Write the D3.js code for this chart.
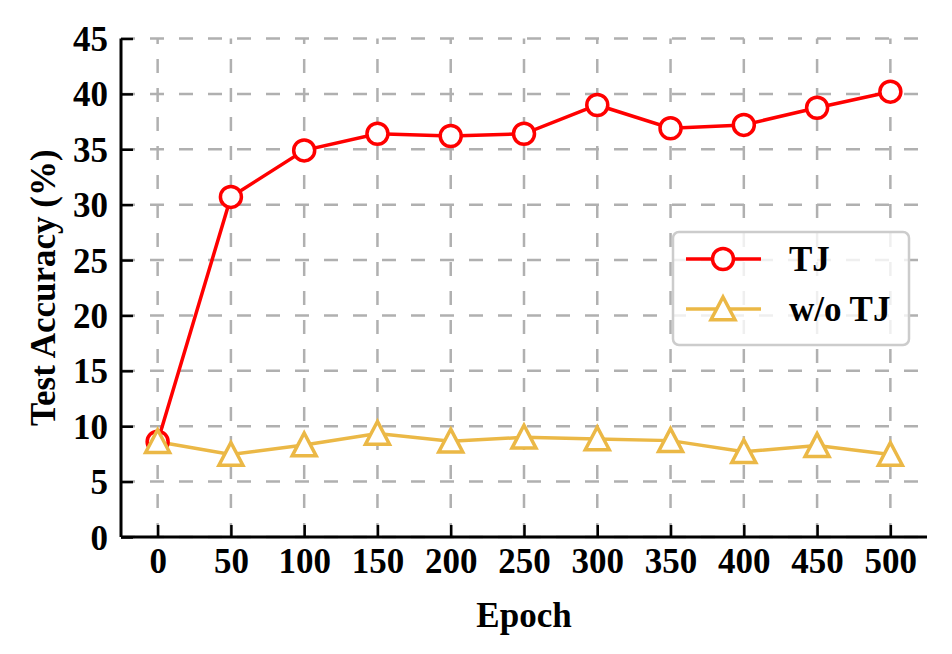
<!DOCTYPE html>
<html>
<head>
<meta charset="utf-8">
<script src="https://cdn.jsdelivr.net/npm/d3@7"></script>
<style>
  html, body { margin: 0; padding: 0; background: #fff; }
  svg { display: block; }
  text { font-family: "Liberation Serif", "Times New Roman", serif; font-weight: bold; }
</style>
</head>
<body>
<svg id="chart" width="952" height="654"></svg>
<script>
const epochs = [0, 50, 100, 150, 200, 250, 300, 350, 400, 450, 500];
const tjValues = [8.6, 30.7, 34.9, 36.4, 36.2, 36.4, 39.0, 36.9, 37.2, 38.75, 40.2];
const woTjValues = [8.6, 7.45, 8.3, 9.35, 8.65, 9.0, 8.85, 8.7, 7.7, 8.25, 7.45];
const yTicks = [0, 5, 10, 15, 20, 25, 30, 35, 40, 45];
const xTicks = [0, 50, 100, 150, 200, 250, 300, 350, 400, 450, 500];
const seriesNames = ["TJ", "w/o TJ"];
const xLabel = "Epoch";
const yLabel = "Test Accuracy (%)";

const red = "#ff0000";
const gold = "#ebb846";
const gridColor = "#b0b0b0";
const fontSize = 35;

const svg = d3.select("#chart");
const pLeft = 121, pRight = 927, pTop = 38.5, pBottom = 537;

const x = d3.scaleLinear().domain([-25, 525]).range([pLeft, pRight]);
const y = d3.scaleLinear().domain([0, 45]).range([pBottom, pTop]);

// grid
const grid = svg.append("g");
grid.selectAll("line.h").data(yTicks).enter().append("line")
  .attr("x1", pLeft).attr("x2", pRight)
  .attr("y1", d => y(d)).attr("y2", d => y(d))
  .attr("stroke", gridColor).attr("stroke-width", 2.5)
  .attr("stroke-dasharray", "14,15");
grid.selectAll("line.v").data(xTicks).enter().append("line")
  .attr("x1", d => x(d)).attr("x2", d => x(d))
  .attr("y1", pBottom).attr("y2", pTop)
  .attr("stroke", gridColor).attr("stroke-width", 2.5)
  .attr("stroke-dasharray", "14,15");

// axes (ticks inward)
const xAxis = d3.axisBottom(x).tickValues(xTicks).tickSizeInner(-12).tickSizeOuter(0).tickPadding(0);
const yAxis = d3.axisLeft(y).tickValues(yTicks).tickSizeInner(-12).tickSizeOuter(0).tickPadding(0);

const gx = svg.append("g").attr("transform", `translate(0,${pBottom})`).call(xAxis);
gx.select(".domain").attr("stroke", "#000").attr("stroke-width", 3)
  .attr("d", `M${pLeft},0H${pRight}`);
gx.selectAll(".tick line").attr("stroke", "#000").attr("stroke-width", 2.5);
gx.selectAll(".tick text").attr("font-size", fontSize).attr("fill", "#000")
  .attr("y", 36).attr("dy", 0);

const gy = svg.append("g").attr("transform", `translate(${pLeft},0)`).call(yAxis);
gy.select(".domain").attr("stroke", "#000").attr("stroke-width", 3)
  .attr("d", `M0,${pTop}V${pBottom}`);
gy.selectAll(".tick line").attr("stroke", "#000").attr("stroke-width", 2.5);
gy.selectAll(".tick text").attr("font-size", fontSize).attr("fill", "#000")
  .attr("x", -13).attr("dy", 0).attr("y", 12).attr("text-anchor", "end");
svg.selectAll(".tick text").attr("font-family", "Liberation Serif").attr("font-weight", "bold");

// axis labels
svg.append("text").attr("x", (pLeft + pRight) / 2).attr("y", 627)
  .attr("text-anchor", "middle").attr("font-size", fontSize).text(xLabel);
svg.append("text").attr("transform", `translate(55,${(pTop + pBottom) / 2}) rotate(-90)`)
  .attr("text-anchor", "middle").attr("font-size", fontSize).text(yLabel);

// lines
const line = d3.line().x((d, i) => x(epochs[i])).y(d => y(d));
svg.append("path").datum(woTjValues).attr("d", line)
  .attr("fill", "none").attr("stroke", gold).attr("stroke-width", 3.5);
svg.append("path").datum(tjValues).attr("d", line)
  .attr("fill", "none").attr("stroke", red).attr("stroke-width", 3.5);

function triPath(s) {
  return `M0,${-s}L${s},${s * 0.9}L${-s},${s * 0.9}Z`;
}

svg.selectAll("circle.tj").data(tjValues).enter().append("circle")
  .attr("cx", (d, i) => x(epochs[i])).attr("cy", d => y(d)).attr("r", 10.5)
  .attr("fill", "#fff").attr("stroke", red).attr("stroke-width", 3.5);
svg.selectAll("path.wo").data(woTjValues).enter().append("path")
  .attr("transform", (d, i) => `translate(${x(epochs[i])},${y(d)})`)
  .attr("d", triPath(12))
  .attr("fill", "#fff").attr("stroke", gold).attr("stroke-width", 3.5).attr("stroke-linejoin", "miter");

// legend
const lg = svg.append("g");
lg.append("rect").attr("x", 673).attr("y", 232).attr("width", 236).attr("height", 113)
  .attr("rx", 6).attr("ry", 6)
  .attr("fill", "#fff").attr("fill-opacity", 0.8)
  .attr("stroke", "#cccccc").attr("stroke-width", 2.5);
const legendItems = [
  { name: seriesNames[0], color: red, kind: "circle", cy: 259 },
  { name: seriesNames[1], color: gold, kind: "tri", cy: 309 }
];
legendItems.forEach(it => {
  lg.append("line").attr("x1", 686).attr("x2", 761).attr("y1", it.cy).attr("y2", it.cy)
    .attr("stroke", it.color).attr("stroke-width", 3.5);
  if (it.kind === "circle") {
    lg.append("circle").attr("cx", 723).attr("cy", it.cy).attr("r", 10.5)
      .attr("fill", "#fff").attr("stroke", it.color).attr("stroke-width", 3.5);
  } else {
    lg.append("path").attr("transform", `translate(723,${it.cy})`).attr("d", triPath(12))
      .attr("fill", "#fff").attr("stroke", it.color).attr("stroke-width", 3.5);
  }
  lg.append("text").attr("x", 789).attr("y", it.cy + 12).attr("font-size", fontSize).text(it.name);
});
</script>
</body>
</html>
